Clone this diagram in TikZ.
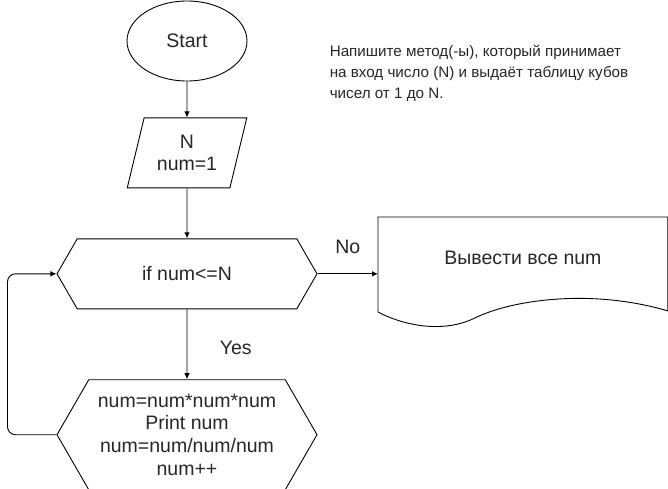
\documentclass[tikz,border=0pt]{standalone}
\usepackage{fontspec}
\setmainfont{Liberation Sans}
\usepackage{tikz}
\usetikzlibrary{shapes.geometric,shapes.symbols,arrows.meta,positioning,calc}

\begin{document}
\begin{tikzpicture}[
  x=1pt, y=-1pt,
  every node/.style={font=\fontsize{19.5}{22.7}\selectfont, text=black!85},
  term/.style={draw, ellipse, minimum width=120pt, minimum height=80pt},
  io/.style={draw, trapezium, trapezium left angle=73, trapezium right angle=107,
             trapezium stretches=true, minimum width=120pt, minimum height=70pt,
             align=center},
  prep/.style={draw, signal, signal to=west and east, signal pointer angle=120,
               minimum width=260pt, align=center},
  docbox/.style={minimum width=289pt, minimum height=80pt},
  ar/.style={-{Latex[length=6pt,width=5.5pt]}, line width=0.9pt},
  line width=0.9pt
]
  \useasboundingbox (0,0) rectangle (668,488);
  \node[term] (start) at (187,41) {Start};
  \node[io, below=36pt of start] (inp) {N\\num=1};
  \node[prep, minimum height=70pt, below=50pt of inp] (cond) {if num<=N};
  \node[prep, minimum height=110pt, below=70pt of cond] (body)
       {num=num*num*num\\Print num\\num=num/num/num\\num++};
  \node[docbox, anchor=north west] (out) at (378,217) {Вывести все num};
  % document outline with wavy bottom
  \coordinate (outbl) at ($(out.south west)+(0,14)$);
  \coordinate (outbr) at ($(out.south east)+(0,13)$);
  \draw (outbl) -- (out.north west) -- (out.north east) -- (outbr)
        .. controls (590,288) and (510,300) .. ($(out.south)+(-50,21)$)
        .. controls (440,334) and (400,324) .. (outbl);
  \node[font=\fontsize{15.2}{21}\selectfont, align=left, anchor=north west] (task) at (326,41)
       {Напишите метод(-ы), который принимает\\на вход число (N) и выдаёт таблицу кубов\\чисел от 1 до N.};
  \draw[ar] (start) -- (inp);
  \draw[ar] (inp) -- (cond);
  \draw[ar] (cond) -- node[right=29pt, yshift=-4pt] (yes) {Yes} (body);
  \draw[ar] (cond.east) -- node[above=16pt] (no) {No} (cond.east -| out.west);
  \draw[ar, rounded corners=8pt] (body.west) -- ++(-49,0) |- (cond.west);
\end{tikzpicture}
\end{document}
